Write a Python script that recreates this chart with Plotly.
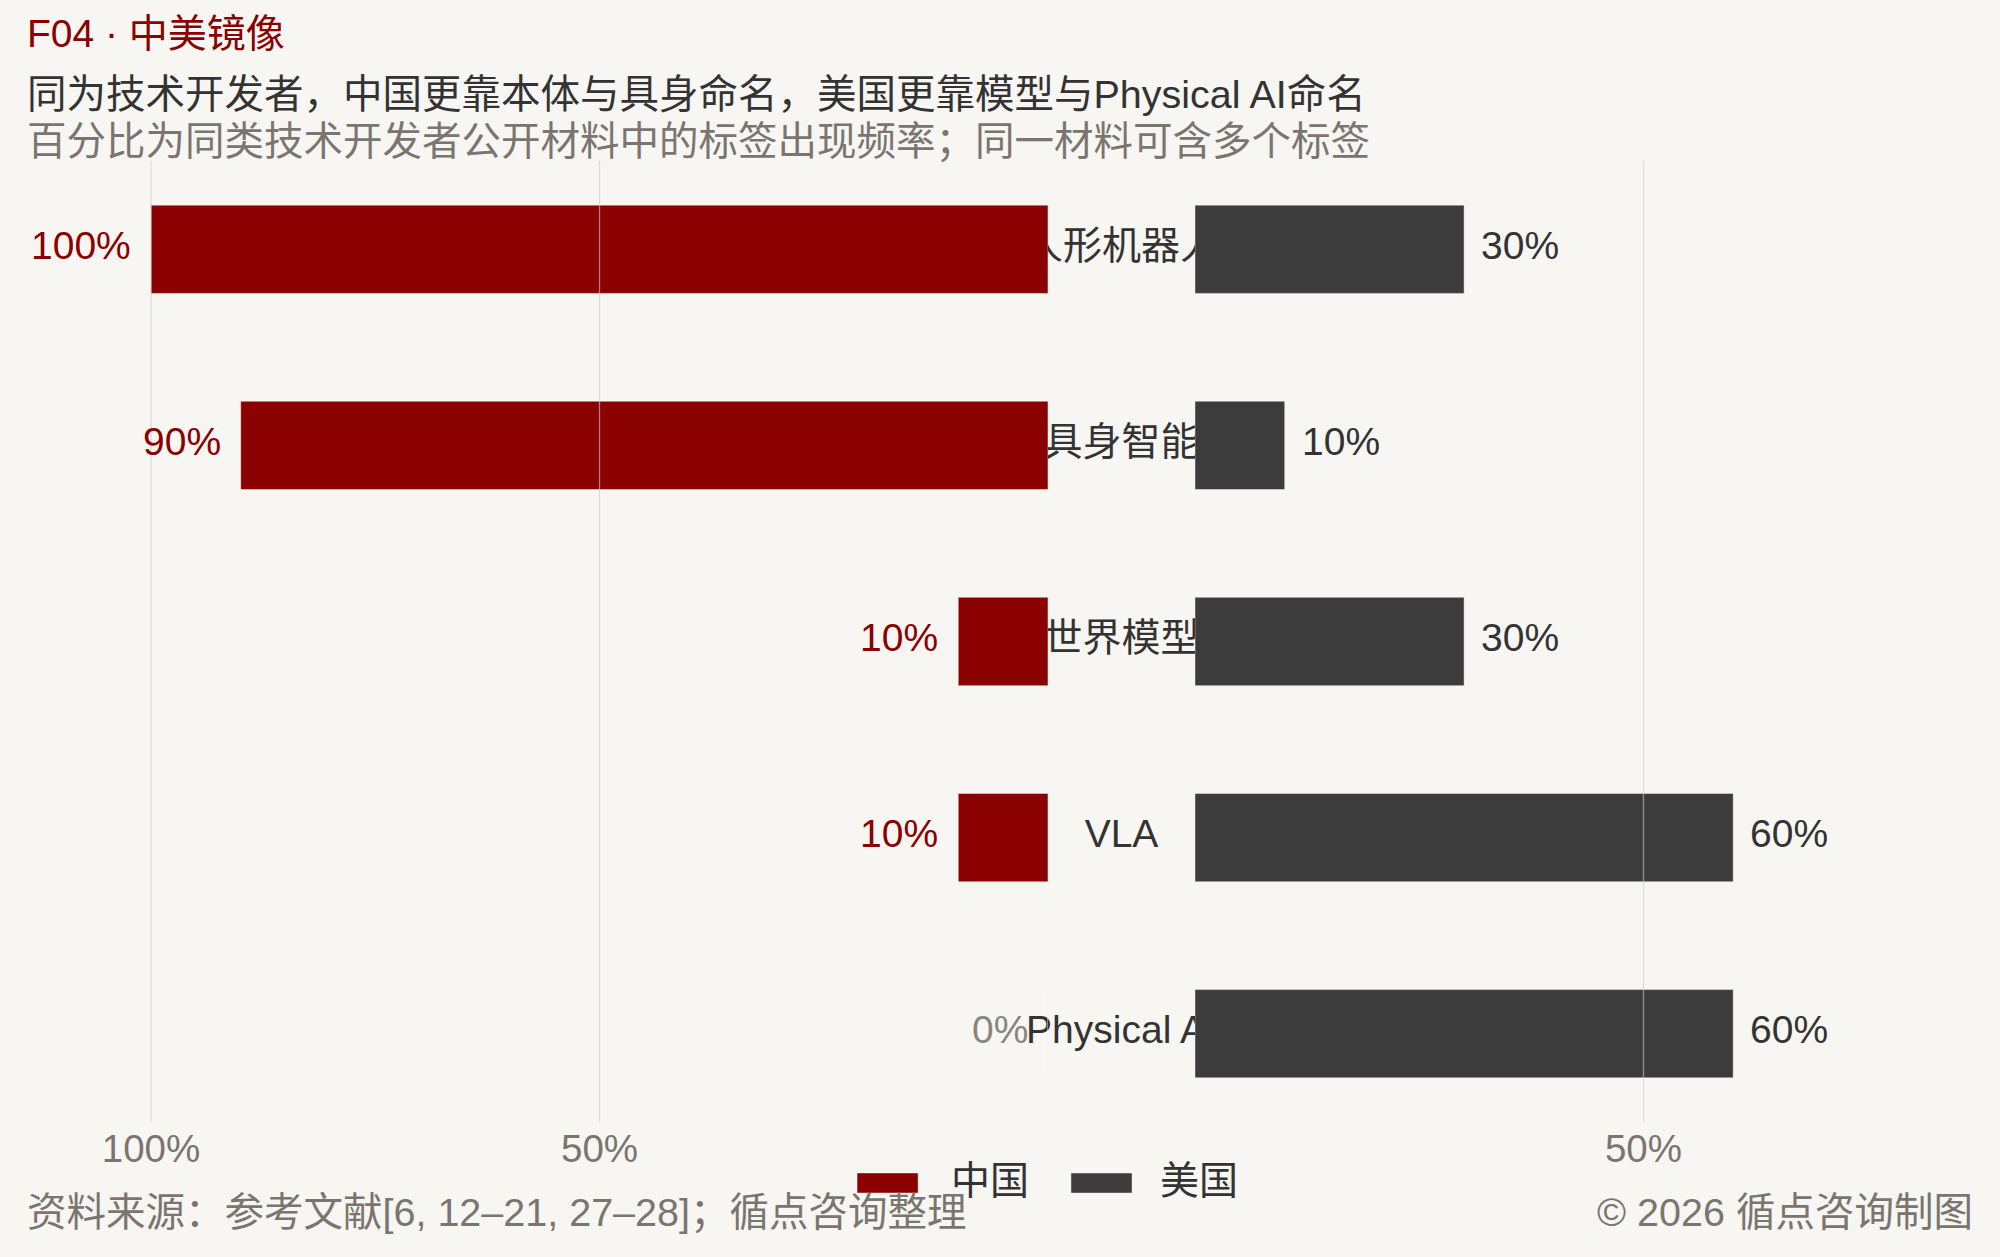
import plotly.graph_objects as go

categories = ["人形机器人", "具身智能", "世界模型", "VLA", "Physical AI"]
china = [1.0, 0.9, 0.1, 0.1, 0.0]
usa = [0.3, 0.1, 0.3, 0.6, 0.6]
series_names = ["中国", "美国"]
left_ticks = [1.0, 0.5]
right_ticks = [0.5]

RED = "#8B0000"
DARK = "#3C3C3C"
INK = "#333333"
GREY = "#7A7570"
BG = "#F8F6F2"
FONT = "Liberation Sans, Arial, Noto Sans CJK SC, sans-serif"

fig = go.Figure()

# category names sit in a thin middle subplot, drawn first so the bars cover them
fig.add_trace(go.Scatter(
    x=[0] * len(categories), y=categories, mode="text", text=categories,
    textposition="middle center", textfont=dict(size=39, color=INK),
    cliponaxis=False, showlegend=False, hoverinfo="skip",
    xaxis="x", yaxis="y"))

fig.add_trace(go.Bar(
    x=china, y=categories, orientation="h", name=series_names[0],
    marker=dict(color=RED, line=dict(color="rgba(248,246,242,0.45)", width=1)),
    width=0.45, showlegend=False, xaxis="x2", yaxis="y2"))
fig.add_trace(go.Bar(
    x=usa, y=categories, orientation="h", name=series_names[1],
    marker=dict(color=DARK, line=dict(color="rgba(248,246,242,0.45)", width=1)),
    width=0.45, showlegend=False, xaxis="x3", yaxis="y3"))

yrange = [len(categories) - 0.55, -0.45]
yax = dict(range=yrange, showticklabels=False, showgrid=False, zeroline=False,
           showline=False, ticks="", fixedrange=True)
left_dom = [0, 0.5246]
right_dom = [0.6, 1]

fig.update_layout(
    width=2000, height=1257,
    paper_bgcolor=BG, plot_bgcolor="rgba(0,0,0,0)",
    font=dict(family=FONT, size=39, color=INK),
    margin=dict(l=25, r=25, t=161, b=135),
    showlegend=False,
    xaxis=dict(domain=[left_dom[1], right_dom[0]], range=[-1, 1], visible=False),
    yaxis=dict(yax, anchor="x"),
    xaxis2=dict(domain=left_dom, range=[1.1405, 0], tickvals=left_ticks,
                tickformat=".0%", showgrid=False, zeroline=False, showline=False,
                ticks="", tickfont=dict(size=38.5, color=GREY), anchor="y2"),
    yaxis2=dict(yax, anchor="x2"),
    xaxis3=dict(domain=right_dom, range=[0, 0.8696], tickvals=right_ticks,
                tickformat=".0%", showgrid=False, zeroline=False, showline=False,
                ticks="", tickfont=dict(size=38.5, color=GREY), anchor="y3"),
    yaxis3=dict(yax, anchor="x3"),
)

# grid lines drawn over the bars, as in the reference
for v in left_ticks:
    fig.add_shape(type="line", xref="x2", yref="y2 domain", x0=v, x1=v, y0=0, y1=1,
                  line=dict(color="rgba(205,203,200,0.6)", width=1.3), layer="above")
for v in right_ticks:
    fig.add_shape(type="line", xref="x3", yref="y3 domain", x0=v, x1=v, y0=0, y1=1,
                  line=dict(color="rgba(205,203,200,0.6)", width=1.3), layer="above")

# value labels
for cat, v in zip(categories, china):
    fig.add_annotation(x=v, y=cat, xref="x2", yref="y2", text=f"{v:.0%}",
                       showarrow=False, xanchor="right", xshift=-18, yshift=4,
                       font=dict(size=39, color=RED if v > 0 else "#888580"))
for cat, v in zip(categories, usa):
    fig.add_annotation(x=v, y=cat, xref="x3", yref="y3", text=f"{v:.0%}",
                       showarrow=False, xanchor="left", xshift=15, yshift=4,
                       font=dict(size=39, color=INK))

# titles
fig.add_annotation(x=0, y=1.1322, xref="paper", yref="paper", xanchor="left",
                   yanchor="middle", showarrow=False, text="F04 · 中美镜像",
                   font=dict(size=39, color=RED))
fig.add_annotation(x=0, y=1.0697, xref="paper", yref="paper", xanchor="left",
                   yanchor="middle", showarrow=False,
                   text="同为技术开发者，中国更靠本体与具身命名，美国更靠模型与Physical AI命名",
                   font=dict(size=39.5, color=INK))
fig.add_annotation(x=0, y=1.0208, xref="paper", yref="paper", xanchor="left",
                   yanchor="middle", showarrow=False,
                   text="百分比为同类技术开发者公开材料中的标签出现频率；同一材料可含多个标签",
                   font=dict(size=39.5, color=GREY))

# footer
fig.add_annotation(x=0, y=-0.0937, xref="paper", yref="paper", xanchor="left",
                   yanchor="middle", showarrow=False,
                   text="资料来源：参考文献[6, 12–21, 27–28]；循点咨询整理",
                   font=dict(size=39.5, color=GREY))
fig.add_annotation(x=1, y=-0.0937, xref="paper", yref="paper", xanchor="right",
                   yanchor="middle", showarrow=False, text="© 2026 循点咨询制图",
                   font=dict(size=39.5, color=GREY))

# legend drawn by hand so the swatches match the wide reference keys
legend_items = [(series_names[0], RED, 0.4267, 0.4738),
                (series_names[1], DARK, 0.5364, 0.5810)]
for name, color, sx, tx in legend_items:
    fig.add_shape(type="rect", xref="paper", yref="paper", x0=sx, x1=sx + 0.0313,
                  y0=-0.0531, y1=-0.0739, fillcolor=color,
                  line=dict(color="rgba(248,246,242,0.45)", width=1))
    fig.add_annotation(x=tx, y=-0.0604, xref="paper", yref="paper", xanchor="left",
                       yanchor="middle", showarrow=False, text=name,
                       font=dict(size=39, color=INK))

fig.write_html("out.html", config={"displayModeBar": False},
               post_script="document.body.style.margin='0';")
